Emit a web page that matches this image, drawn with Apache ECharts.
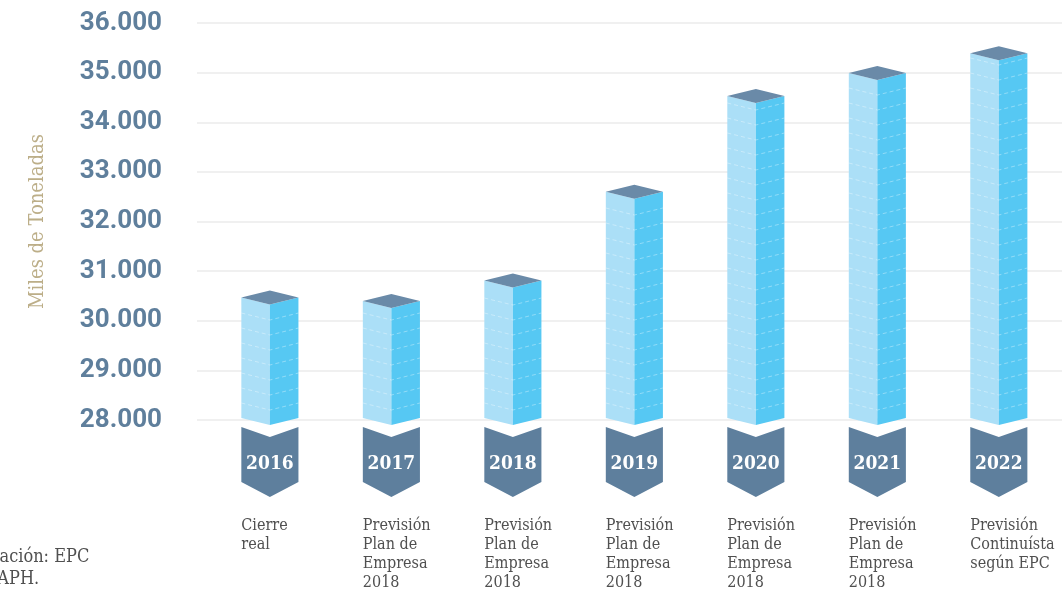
<!DOCTYPE html>
<html>
<head>
<meta charset="utf-8">
<script src="https://cdn.jsdelivr.net/npm/echarts@6/dist/echarts.min.js"></script>
<style>
html, body { margin: 0; padding: 0; background: #fff; }
#chart { width: 1062px; height: 591px; }
</style>
</head>
<body>
<div id="chart"></div>
<script>
'use strict';

// data
var years = ['2016', '2017', '2018', '2019', '2020', '2021', '2022'];
var notes = [
    ['Cierre', 'real'],
    ['Previsión', 'Plan de', 'Empresa', '2018'],
    ['Previsión', 'Plan de', 'Empresa', '2018'],
    ['Previsión', 'Plan de', 'Empresa', '2018'],
    ['Previsión', 'Plan de', 'Empresa', '2018'],
    ['Previsión', 'Plan de', 'Empresa', '2018'],
    ['Previsión', 'Continuísta', 'según EPC']
];
var tonnes = [30470, 30400, 30810, 32600, 34530, 34990, 35390];
var yMin = 28000, yMax = 36000, yStep = 1000;

const SERIF = '"DejaVu Serif Condensed", "Liberation Serif", serif';

var myChart = echarts.init(document.getElementById('chart'));

var renderBar = function(params, api) {
    var i = api.value(0);
    var top = api.coord([i, api.value(1)]);
    var base = api.coord([i, yMin]);
    var w = api.size([0.47, 0])[0];
    var cx = top[0], L = cx - w / 2, R = cx + w / 2;
    var yt = top[1], y0 = base[1], yb = y0 - 2, d = 7;

    var kids = [{
        type: 'polygon',
        shape: { points: [[L, yt], [cx, yt + d], [cx, yb + d], [L, yb]] },
        style: { fill: '#abdff7' }
    }, {
        type: 'polygon',
        shape: { points: [[cx, yt + d], [R, yt], [R, yb], [cx, yb + d]] },
        style: { fill: '#56c8f3' }
    }];
    // dashed stripes on the faces
    for (var y = yb - 15; y > yt + 4; y -= 15) {
        kids.push({
            type: 'polyline',
            shape: { points: [[L, y], [cx, y + d], [R, y]] },
            style: { stroke: 'rgba(255,255,255,0.35)', lineWidth: 1, lineDash: [4, 3], fill: null }
        });
    }
    kids.push({
        type: 'polygon',
        shape: { points: [[L, yt], [cx, yt - d], [R, yt], [cx, yt + d]] },
        style: { fill: '#6a8aa8' }
    });
    // year badge
    kids.push({
        type: 'polygon',
        shape: { points: [[L, y0 + 7], [cx, y0 + 17], [R, y0 + 7], [R, y0 + 62], [cx, y0 + 77], [L, y0 + 62]] },
        style: { fill: '#5e7f9d' }
    });
    kids.push({
        type: 'text',
        style: {
            text: years[i], x: cx, y: y0 + 44, align: 'center', verticalAlign: 'middle',
            fill: '#fff', font: 'bold 19px ' + SERIF
        }
    });
    kids.push({
        type: 'text',
        style: {
            text: notes[i].join('\n'), x: L, y: y0 + 96, align: 'left', verticalAlign: 'top',
            lineHeight: 19, fill: '#505050', font: '16px ' + SERIF
        }
    });
    return { type: 'group', children: kids };
};

var option = {
    animation: false,
    grid: { left: 197, right: 0, top: 23, bottom: 171 },
    xAxis: { type: 'value', min: -0.6, max: 6.52, show: false },
    yAxis: {
        type: 'value',
        min: yMin,
        max: yMax,
        interval: yStep,
        axisLine: { show: false },
        axisTick: { show: false },
        axisLabel: {
            margin: 35,
            color: '#5f7f9c',
            fontFamily: 'Roboto',
            fontWeight: 'bold',
            fontSize: 26,
            formatter: function(v) {
                return String(v).replace(/\B(?=(\d{3})+(?!\d))/g, '.');
            }
        },
        splitLine: { lineStyle: { color: '#ebebeb', width: 1.5 } },
        name: 'Miles de Toneladas',
        nameLocation: 'middle',
        nameGap: 149,
        nameTextStyle: { color: '#bcae88', fontFamily: SERIF, fontSize: 20 }
    },
    series: [{
        type: 'custom',
        clip: false,
        renderItem: renderBar,
        data: tonnes.map(function(v, i) {
            return [i, v];
        })
    }],
    graphic: [{
        type: 'text', left: -55, top: 548,
        style: { text: 'Elaboración: EPC', fill: '#505050', font: '18px ' + SERIF }
    }, {
        type: 'text', left: -17, top: 570,
        style: { text: 'y APH.', fill: '#505050', font: '18px ' + SERIF }
    }]
};
myChart.setOption(option);
</script>
</body>
</html>
